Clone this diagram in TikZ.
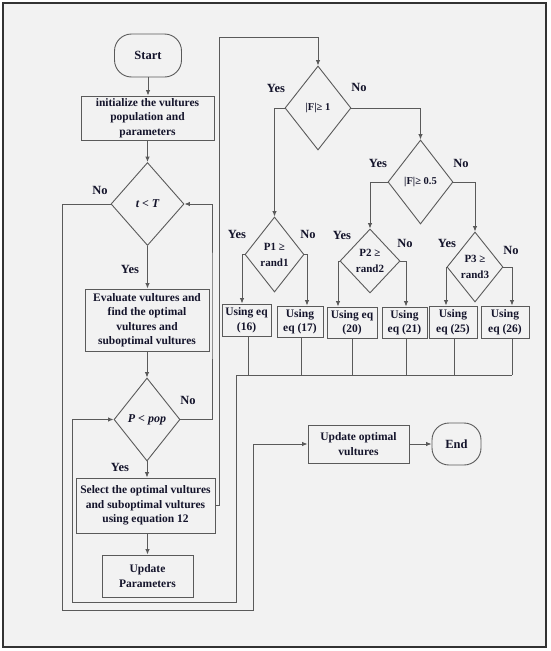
\documentclass[tikz,border=0pt]{standalone}
\usepackage{fontspec}
\setmainfont{Liberation Serif}
\usetikzlibrary{shapes.geometric,arrows.meta}
\definecolor{bgc}{HTML}{F2F2F2}
\definecolor{linec}{HTML}{5A5A5A}
\definecolor{txtc}{HTML}{14142B}
\definecolor{framec}{HTML}{333333}
\begin{document}
\begin{tikzpicture}[x=1pt,y=-1pt,
  ln/.style={draw=linec, line width=0.9pt},
  arr/.style={ln, -{Latex[length=5.5pt,width=4.5pt]}},
  boxn/.style={rectangle, draw=linec, line width=0.9pt, inner sep=0pt, align=center, text=txtc, font=\fontsize{11.5}{14.5}\selectfont\bfseries},
  term/.style={boxn, rounded corners=17pt, font=\fontsize{12.5}{15}\selectfont\bfseries},
  dia/.style={diamond, draw=linec, line width=0.9pt, inner sep=0pt, align=center, text=txtc, font=\fontsize{11}{16}\selectfont\bfseries},
  lbl/.style={text=txtc, font=\fontsize{12.5}{15}\selectfont\bfseries, inner sep=0pt}
]
\fill[white] (0,0) rectangle (550,651);
\useasboundingbox (0,0) rectangle (550,651);
\draw[draw=framec, fill=bgc, line width=1.5pt] (3,3) rectangle (546,647);

% main column
\node[term, minimum width=67pt, minimum height=43pt] (start) at (148,55.5) {Start};
\node[boxn, minimum width=133pt, minimum height=44pt] (init) at (147.5,118) {initialize the vultures\\population and\\parameters};
\node[dia, minimum width=73pt, minimum height=83pt, font=\fontsize{12}{14}\selectfont\bfseries\itshape] (tT) at (147.5,204) {t < T};
\node[boxn, minimum width=124pt, minimum height=62pt] (eval) at (147,320) {Evaluate vultures and\\find the optimal\\vultures and\\suboptimal vultures};
\node[dia, minimum width=66pt, minimum height=83pt, font=\fontsize{12}{14}\selectfont\bfseries\itshape] (ppop) at (147,419.5) {P < pop};
\node[boxn, minimum width=139pt, minimum height=55pt] (select) at (145.5,505.5) {Select the optimal vultures\\and suboptimal vultures\\using equation 12};
\node[boxn, minimum width=91pt, minimum height=42pt] (upd) at (147.5,576) {Update\\Parameters};

% right part
\node[dia, minimum width=66pt, minimum height=84pt, font=\fontsize{10.5}{14}\selectfont\bfseries] (F1) at (318,108) {|F|≥ 1};
\node[dia, minimum width=65pt, minimum height=84pt, font=\fontsize{10.5}{14}\selectfont\bfseries] (F05) at (420.5,182) {|F|≥ 0.5};
\node[dia, minimum width=59pt, minimum height=75pt] (P1) at (274.5,254.5) {P1 ≥\\rand1};
\node[dia, minimum width=60pt, minimum height=64pt] (P2) at (370,261) {P2 ≥\\rand2};
\node[dia, minimum width=56pt, minimum height=70pt] (P3) at (475,267) {P3 ≥\\rand3};

\node[boxn, minimum width=49pt, minimum height=32pt] (u16) at (246.5,320) {Using eq\\(16)};
\node[boxn, minimum width=46pt, minimum height=31pt] (u17) at (300,321.5) {Using\\eq (17)};
\node[boxn, minimum width=50pt, minimum height=31pt] (u20) at (352,322.5) {Using eq\\(20)};
\node[boxn, minimum width=45pt, minimum height=31pt] (u21) at (404.5,322.5) {Using\\eq (21)};
\node[boxn, minimum width=48pt, minimum height=32pt] (u25) at (453,322) {Using\\eq (25)};
\node[boxn, minimum width=48pt, minimum height=32pt] (u26) at (505,322) {Using\\eq (26)};

\node[boxn, minimum width=101pt, minimum height=38pt] (uopt) at (358.5,444) {Update optimal\\vultures};
\node[term, minimum width=49pt, minimum height=42pt] (endn) at (456.5,444) {End};

% main column arrows
\draw[arr] (start.south) -- (start.south |- init.north);
\draw[arr] (init.south) -- (init.south |- tT.north);
\draw[arr] (tT.south) -- (tT.south |- eval.north);
\draw[arr] (eval.south) -- (eval.south |- ppop.north);
\draw[arr] (ppop.south) -- (ppop.south |- select.north);
\draw[arr] (select.south -| upd.north) -- (upd.north);

% t<T No -> Update optimal
\coordinate (c1) at (62,610);
\coordinate (c2) at (253,610);
\draw[arr] (tT.west) -| (c1) -- (c2) |- (uopt.west);
% P<pop No -> back to t<T
\coordinate (c3) at (212,300);
\draw[arr] (ppop.east) -| (c3) |- (tT.east);
% Select -> |F|>=1
\coordinate (c4) at (219,37);
\draw[arr] (select.east) -| (c4) -| (F1.north);

% F branches
\draw[arr] (F1.west) -| (P1.north);
\draw[arr] (F1.east) -| (F05.north);
\draw[arr] (F05.west) -| (P2.north);
\draw[arr] (F05.east) -| (P3.north);

\coordinate (y16) at (242,0);
\coordinate (y17) at (307,0);
\coordinate (y20) at (338,0);
\coordinate (y21) at (406,0);
\coordinate (y25) at (446,0);
\coordinate (y26) at (512,0);
\draw[arr] (P1.west) -| (y16 |- u16.north);
\draw[arr] (P1.east) -| (y17 |- u17.north);
\draw[arr] (P2.west) -| (y20 |- u20.north);
\draw[arr] (P2.east) -| (y21 |- u21.north);
\draw[arr] (P3.west) -| (y25 |- u25.north);
\draw[arr] (P3.east) -| (y26 |- u26.north);

% merge
\coordinate (m0) at (236,375);
\coordinate (m1) at (512,375);
\draw[ln] (m0) -- (m1);
\draw[ln] ([xshift=1.5pt]u16.south) -- ([xshift=1.5pt]u16.south |- m0);
\draw[ln] ([xshift=1pt]u17.south) -- ([xshift=1pt]u17.south |- m0);
\draw[ln] (u20.south) -- (u20.south |- m0);
\draw[ln] ([xshift=1.5pt]u21.south) -- ([xshift=1.5pt]u21.south |- m0);
\draw[ln] ([xshift=1pt]u25.south) -- ([xshift=1pt]u25.south |- m0);
\draw[ln] ([xshift=7pt]u26.south) -- ([xshift=7pt]u26.south |- m0);
\coordinate (m2) at (236,602);
\coordinate (m3) at (72,602);
\draw[arr] (m0) -- (m2) -- (m3) |- (ppop.west);

\draw[arr] (uopt.east) -- (endn.west);

% labels
\node[lbl] (l1) at (100,190) {No};
\node[lbl] (l2) at (130,269) {Yes};
\node[lbl] (l3) at (188,400) {No};
\node[lbl] (l4) at (120,467) {Yes};
\node[lbl] (l5) at (276,88) {Yes};
\node[lbl] (l6) at (359,87) {No};
\node[lbl] (l7) at (378,163) {Yes};
\node[lbl] (l8) at (461,163) {No};
\node[lbl] (l9) at (237,234) {Yes};
\node[lbl] (l10) at (308,234) {No};
\node[lbl] (l11) at (342,235) {Yes};
\node[lbl] (l12) at (405,243) {No};
\node[lbl] (l13) at (447,243) {Yes};
\node[lbl] (l14) at (511,250) {No};
\end{tikzpicture}
\end{document}
